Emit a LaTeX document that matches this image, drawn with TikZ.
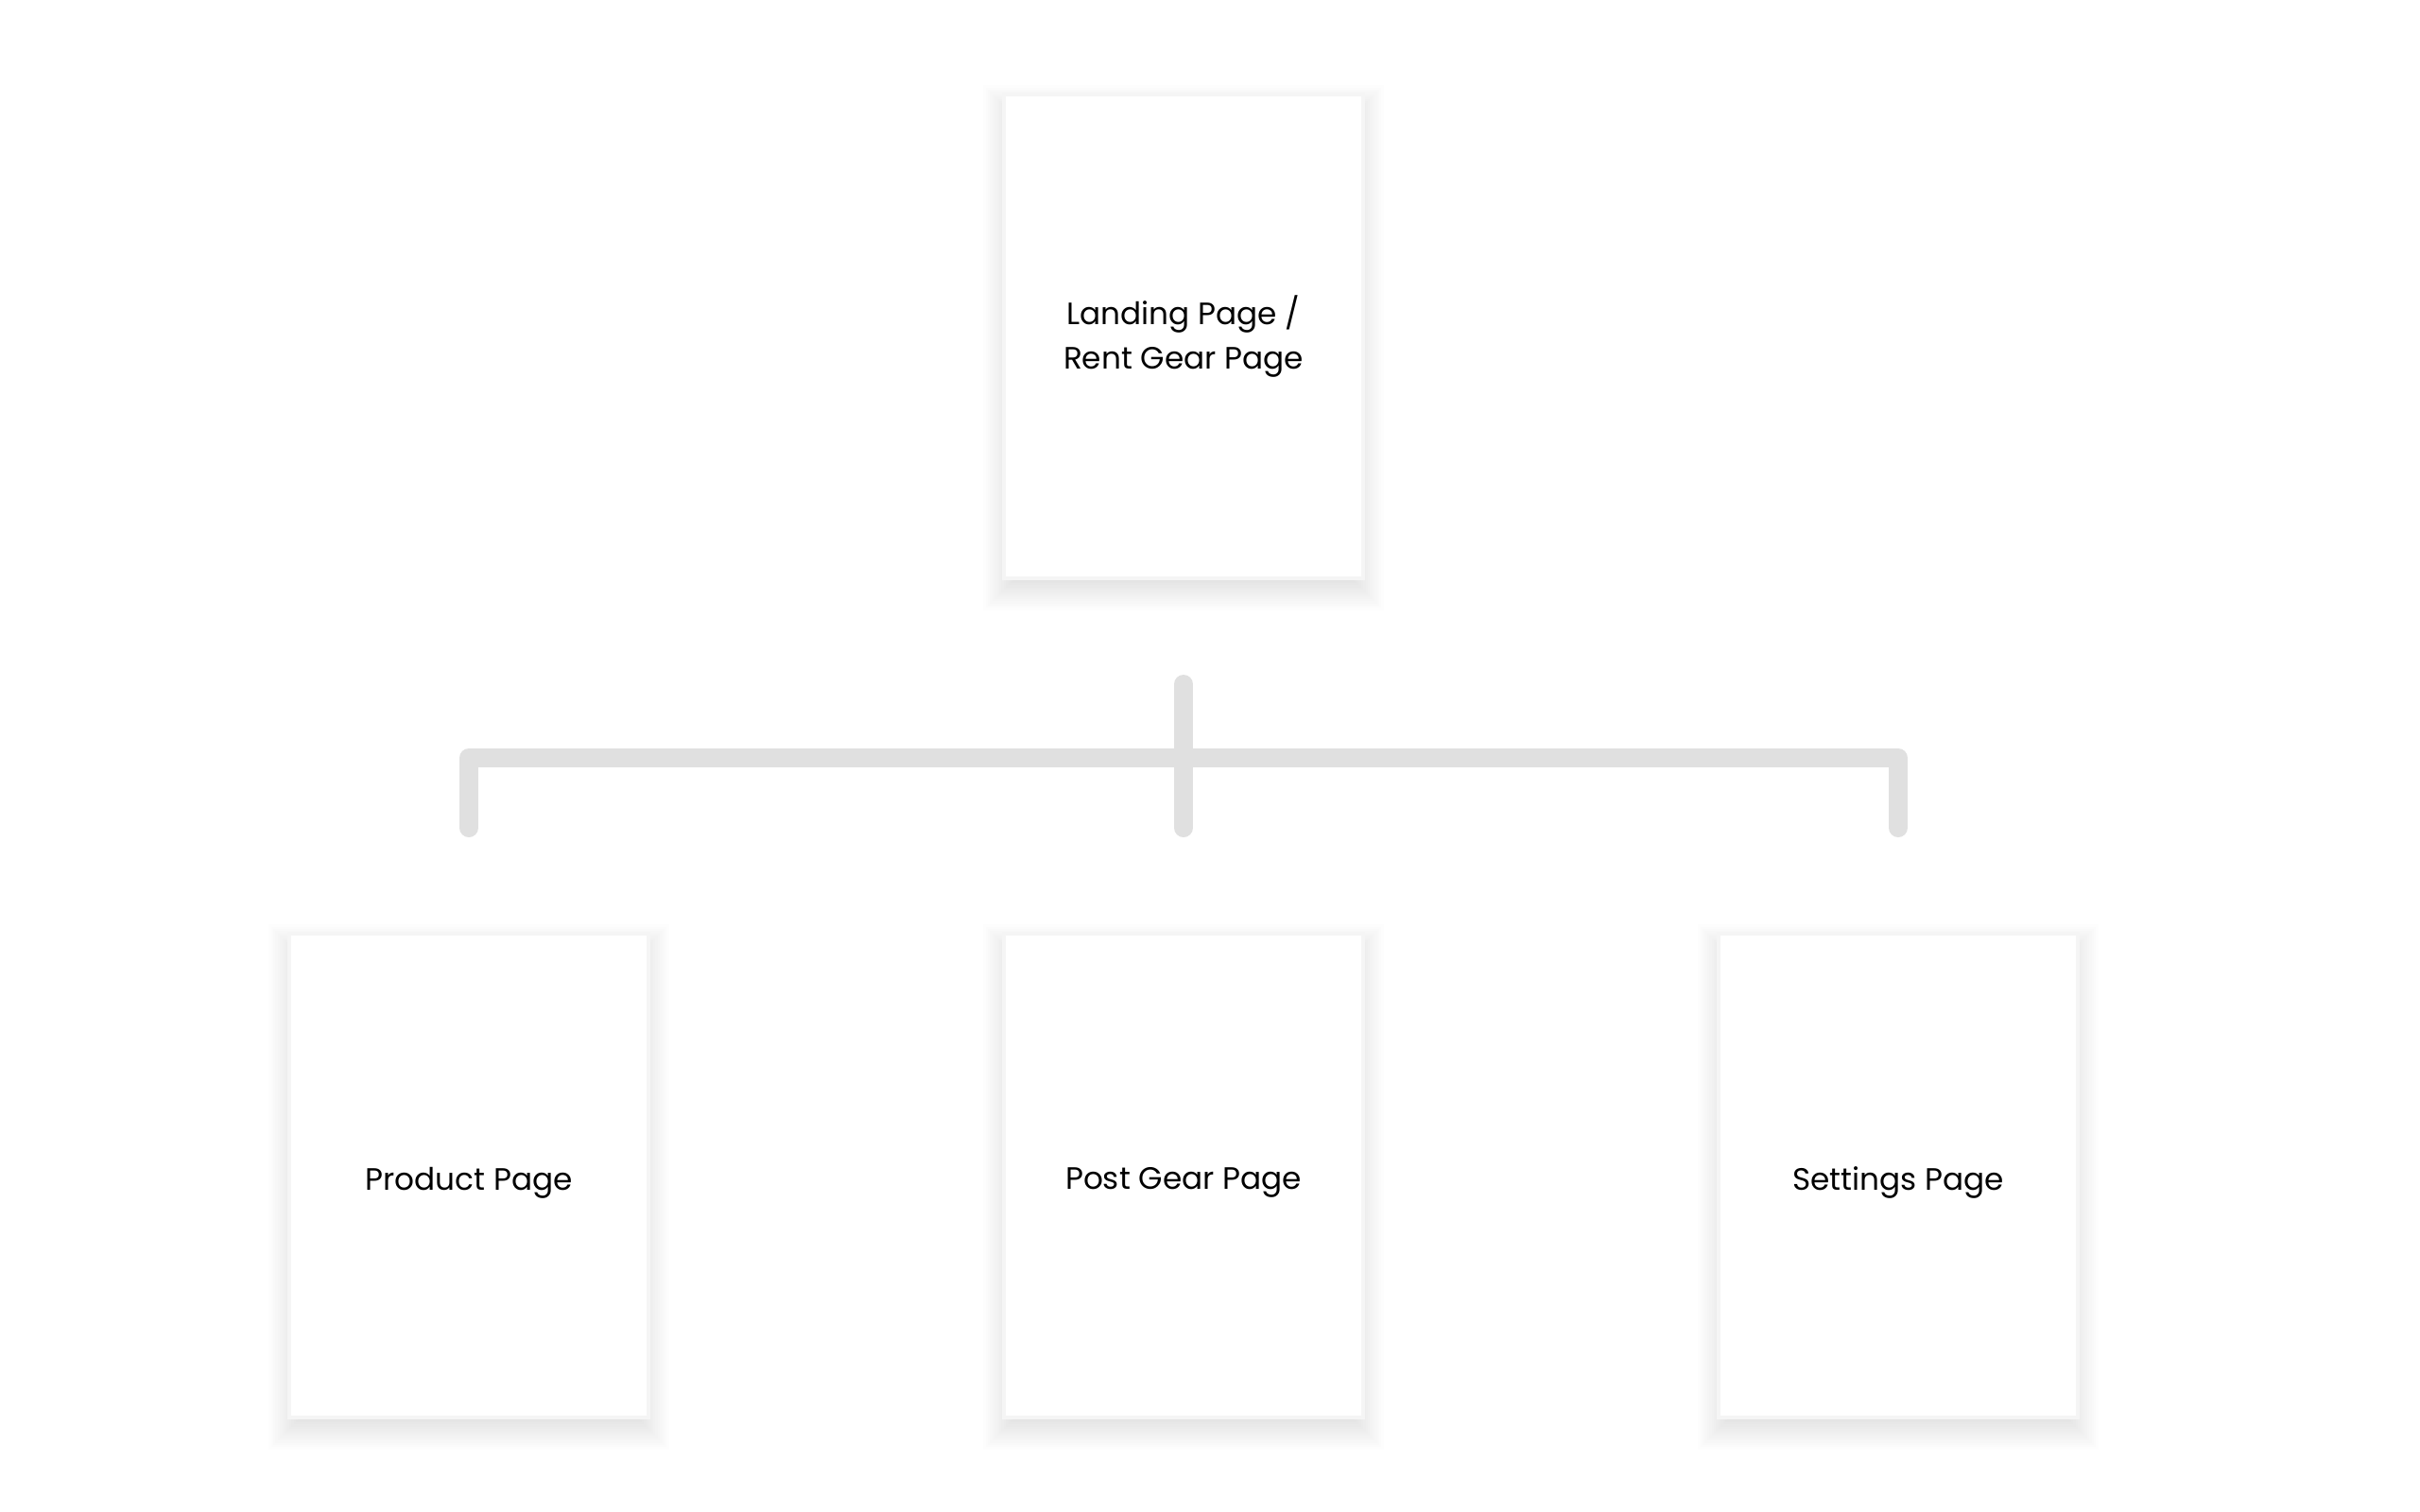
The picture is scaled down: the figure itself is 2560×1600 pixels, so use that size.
\documentclass[tikz,border=0pt]{standalone}
\usepackage{fontspec}
\setmainfont{Poppins}
\pgfdeclarelayer{background}
\pgfsetlayers{background,main}
\newcommand{\droptext}[1]{\raisebox{-2.2pt}[\height][\depth]{#1}}
\begin{document}
\begin{tikzpicture}[x=0.01cm,y=-0.01cm]
\tikzset{
  page/.style={draw=black!4, line width=1.15pt, fill=white,
    minimum width=3.80cm, minimum height=5.12cm, inner sep=0pt,
    align=center, font=\fontsize{9.3}{13.4}\selectfont, text=black},
  softshade/.style={fill=black, opacity=0.0075},
  link/.style={draw=black!12, line width=0.2cm, line cap=round, line join=round}
}
\useasboundingbox (0,0) rectangle (2560,1600);

\node[page] (landing) at (1252,356) {Landing Page /\\Rent Gear Page};
\node[page] (product) at (496,1244) {\droptext{Product Page}};
\node[page] (post) at (1252,1244) {\droptext{Post Gear Page}};
\node[page] (settings) at (2008,1244) {\droptext{Settings Page}};

\begin{pgfonlayer}{background}
  \fill[white] (0,0) rectangle (2560,1600);
  \foreach \n in {landing,product,post,settings}{
    \foreach \i in {1,...,14}{
      \fill[softshade]
        ([shift={(-\i*0.024cm+0.14cm,\i*0.024cm-0.14cm-0.12cm)}]\n.north west)
        rectangle
        ([shift={(\i*0.024cm-0.14cm,-\i*0.024cm+0.14cm-0.12cm)}]\n.south east);
    }
  }
\end{pgfonlayer}

\coordinate (stemtop) at (1252,724);
\coordinate (stembot) at (1252,876);
\coordinate (lbot) at (496,876);
\coordinate (ltop) at (496,802);
\coordinate (rtop) at (2008,802);
\coordinate (rbot) at (2008,876);

\draw[link] (lbot) -- (ltop) -- (rtop) -- (rbot);
\draw[link] (stemtop) -- (stembot);
\end{tikzpicture}
\end{document}
